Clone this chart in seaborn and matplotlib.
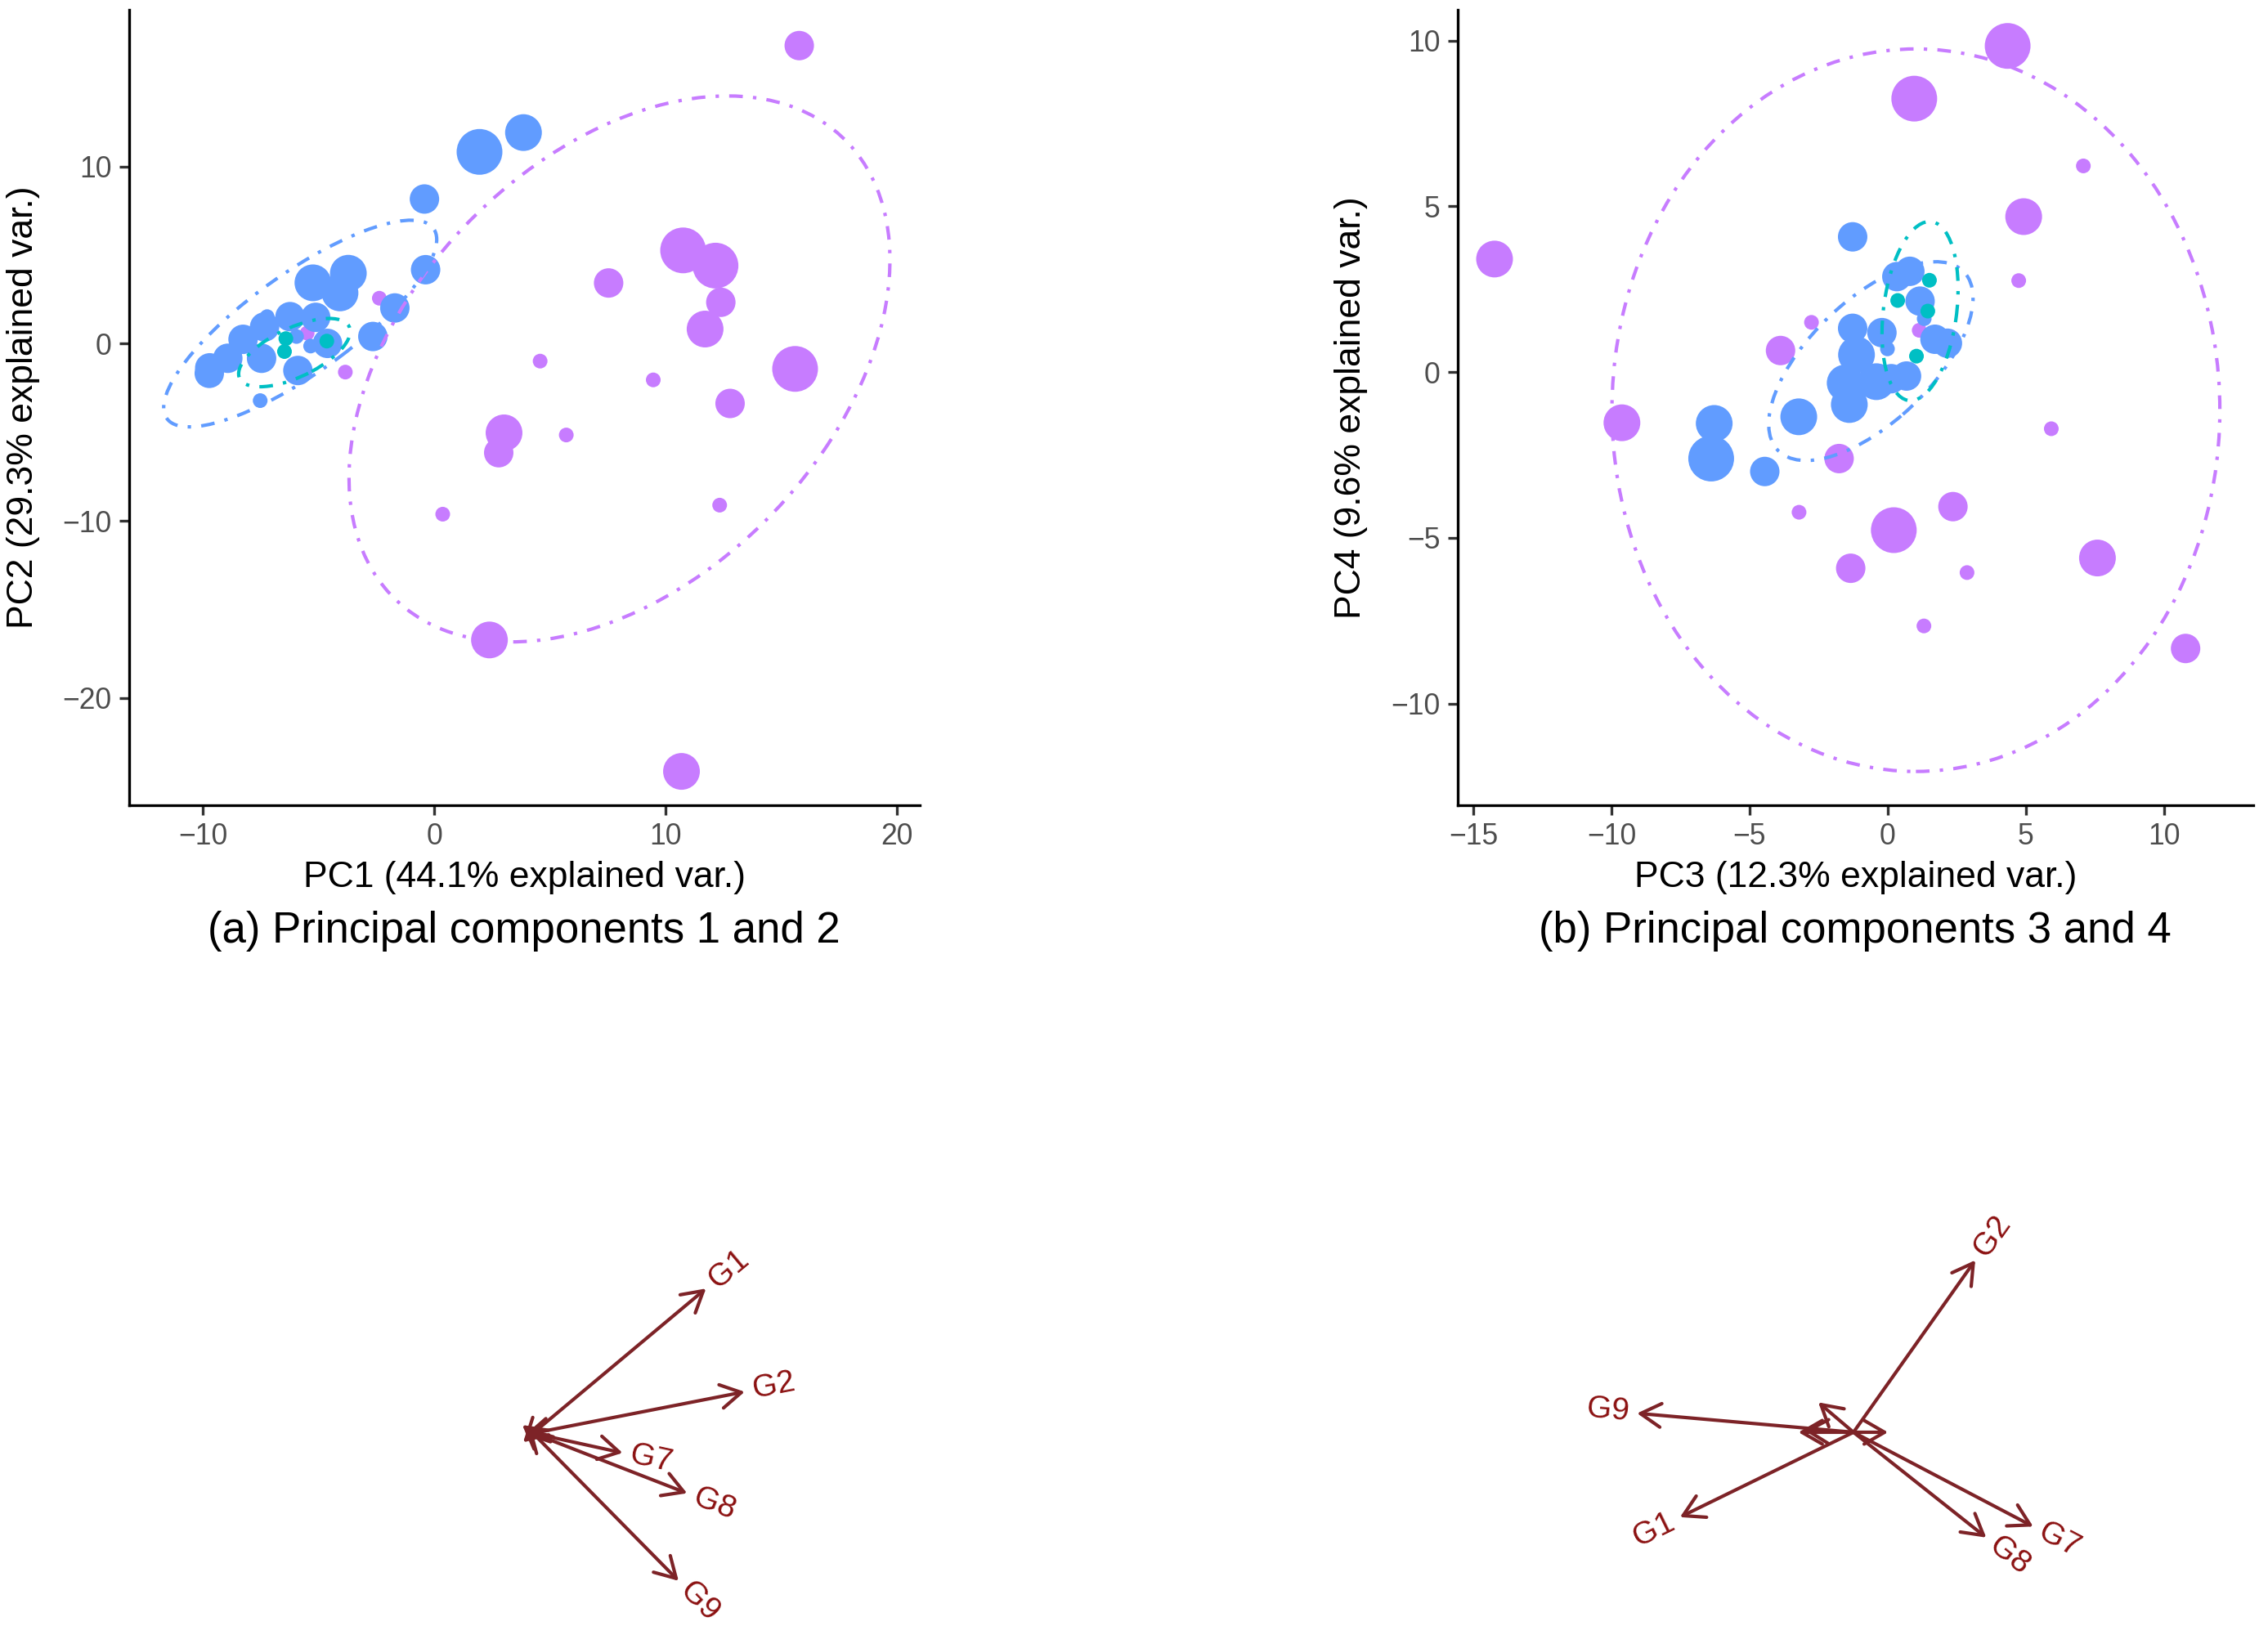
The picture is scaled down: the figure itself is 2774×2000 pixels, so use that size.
import numpy as np
import pandas as pd
import matplotlib
matplotlib.use("Agg")
import matplotlib.pyplot as plt
from matplotlib.patches import Ellipse, FancyArrowPatch
import seaborn as sns

sns.set_theme(style="ticks")
plt.rcParams['font.family'] = ['Liberation Sans', 'DejaVu Sans']

# ---------------- data: panel (a) PC1 vs PC2 ----------------
a_purple_x = [15.77, 10.75, 12.15, 7.53, 12.38, 11.70, 15.59, 12.78, 4.57, 9.46,
              3.01, 2.78, 5.70, 0.36, 12.33, 2.38, 10.68, -2.38, -3.85, -5.50]
a_purple_y = [16.83, 5.27, 4.41, 3.43, 2.34, 0.83, -1.42, -3.37, -0.98, -2.04,
              -5.03, -6.15, -5.15, -9.62, -9.11, -16.72, -24.14, 2.57, -1.60, 0.60]
a_purple_s = [2, 4, 4, 2, 2, 3, 4, 2, 1, 1, 3, 2, 1, 1, 1, 3, 3, 1, 1, 1]

a_blue_x = [-3.72, -5.25, -4.08, -0.38, -1.71, -2.66, -5.13, -6.24, -7.23, -7.34,
            -8.27, -7.47, -8.93, -9.71, -9.73, -5.90, -4.62, -5.35, -5.96, -7.53,
            -0.43, 1.95, 3.85]
a_blue_y = [3.98, 3.44, 2.87, 4.18, 2.02, 0.41, 1.49, 1.53, 1.53, 0.95,
            0.25, -0.82, -0.82, -1.36, -1.67, -1.51, 0.02, -0.13, 0.41, -3.21,
            8.17, 10.83, 11.92]
a_blue_s = [3, 3, 3, 2, 2, 2, 2, 2, 1, 2, 2, 2, 2, 2, 2, 2, 2, 1, 1, 1, 2, 4, 3]

a_teal_x = [-6.42, -6.48, -4.65]
a_teal_y = [0.29, -0.44, 0.15]
a_teal_s = [1, 1, 1]

# ---------------- data: panel (b) PC3 vs PC4 ----------------
b_purple_x = [4.34, 0.96, 7.08, 4.92, -14.23, 4.74, -2.76, -3.88, 1.14, -9.62,
              5.92, -1.76, -3.21, 2.36, 0.22, -1.34, 7.59, 2.87, 1.31, 10.78]
b_purple_y = [9.84, 8.25, 6.22, 4.69, 3.41, 2.76, 1.50, 0.65, 1.26, -1.53,
              -1.71, -2.61, -4.23, -4.06, -4.77, -5.92, -5.61, -6.05, -7.66, -8.34]
b_purple_s = [4, 4, 1, 3, 3, 1, 1, 2, 1, 3, 1, 2, 1, 2, 4, 2, 3, 1, 1, 2]

b_blue_x = [-1.27, -6.28, -6.39, -4.45, -3.22, -1.27, -0.21, -0.01, -1.13, 0.33,
            0.80, 1.17, 1.32, 1.71, 2.16, -1.54, -0.41, 0.13, 0.68, -1.39]
b_blue_y = [4.08, -1.55, -2.61, -3.00, -1.35, 1.32, 1.19, 0.70, 0.52, 2.88,
            3.04, 2.14, 1.61, 0.99, 0.87, -0.33, -0.29, -0.20, -0.12, -0.98]
b_blue_s = [2, 3, 4, 2, 3, 2, 2, 1, 3, 2, 2, 2, 1, 2, 2, 3, 3, 2, 2, 3]

b_teal_x = [1.51, 0.36, 1.45, 1.04]
b_teal_y = [2.77, 2.16, 1.84, 0.48]
b_teal_s = [1, 1, 1, 1]

# ellipses: centre x, centre y, semi-axis a, semi-axis b, angle (deg)
a_ellipses = {"A": (8.0, -1.42, 16.58, 9.96, 62.5),
              "B": (-5.8, 1.14, 7.9, 2.54, 44.6),
              "C": (-6.05, -0.5, 2.8, 1.3, 35.0)}
b_ellipses = {"A": (1.02, -1.15, 11.0, 10.9, 0.0),
              "B": (-0.61, 0.33, 4.33, 1.98, 35.8),
              "C": (1.17, 1.84, 2.73, 1.32, 80.6)}

# loadings (biplot arrows)
var_names = ["G1", "G2", "G3", "G4", "G5", "G6", "G7", "G8", "G9"]
load12_x = [2.116, 2.589, -0.13, -0.12, -0.10, -0.06, 1.096, 1.885, 1.781]
load12_y = [1.770, 0.507, 0.10, -0.11, -0.02, 0.06, -0.240, -0.734, -1.806]
load34_x = [-2.122, 1.490, -0.43, -0.673, 0.422, -0.60, 2.198, 1.624, -2.647]
load34_y = [-1.038, 2.105, 0.366, 0.0, 0.0, 0.02, -1.153, -1.288, 0.232]

palette = {"A": "#C77CFF", "B": "#619CFF", "C": "#00BFC4"}
size_map = {1: 42, 2: 168, 3: 262, 4: 406}


def make_df(px, py, ps, bx, by, bs, tx, ty, ts):
    return pd.DataFrame({
        "x": px + bx + tx,
        "y": py + by + ty,
        "group": ["A"] * len(px) + ["B"] * len(bx) + ["C"] * len(tx),
        "size": ps + bs + ts,
    })


df_a = make_df(a_purple_x, a_purple_y, a_purple_s, a_blue_x, a_blue_y, a_blue_s,
               a_teal_x, a_teal_y, a_teal_s)
df_b = make_df(b_purple_x, b_purple_y, b_purple_s, b_blue_x, b_blue_y, b_blue_s,
               b_teal_x, b_teal_y, b_teal_s)

W, H = 2774, 2000
fig = plt.figure(figsize=(W / 200, H / 200), dpi=200)


def px_axes(x0, y0, x1, y1):
    return fig.add_axes([x0 / W, 1 - y1 / H, (x1 - x0) / W, (y1 - y0) / H])


ax1 = px_axes(157.5, 12, 1125, 985)
ax2 = px_axes(1782.7, 12, 2756, 985)
ax3 = px_axes(300, 1450, 1200, 2000)
ax4 = px_axes(1800, 1450, 2700, 2000)


def scatter_panel(ax, df, ellipses, xlim, ylim, xticks, yticks, xlabel, ylabel, title):
    sns.scatterplot(data=df, x="x", y="y", hue="group", size="size",
                    palette=palette, sizes=size_map, linewidth=0, alpha=1,
                    legend=False, ax=ax, zorder=2)
    for g, (cx, cy, a, b, ang) in ellipses.items():
        e = Ellipse((cx, cy), 2 * a, 2 * b, angle=ang, fill=False,
                    edgecolor=palette[g], lw=1.5, linestyle=(0, (4, 3, 1, 3)),
                    zorder=3)
        ax.add_patch(e)
    ax.set_xlim(*xlim)
    ax.set_ylim(*ylim)
    ax.set_xticks(xticks)
    ax.set_yticks(yticks)
    sns.despine(ax=ax)
    for sp in ["left", "bottom"]:
        ax.spines[sp].set_linewidth(1.2)
        ax.spines[sp].set_color("black")
    ax.tick_params(length=4.4, width=1.2, color="#333333", labelsize=12.8,
                   labelcolor="#4D4D4D", pad=3.2)
    ax.set_xlabel(xlabel, fontsize=16, color="black")
    ax.set_ylabel(ylabel, fontsize=16, color="black")
    ax.xaxis.set_label_coords(0.5, -0.0905)
    ax.xaxis.label.set_va("center")
    ax.yaxis.set_label_coords(-0.1335, 0.5)
    ax.yaxis.label.set_va("center")
    ax.text(0.5, -0.1585, title, transform=ax.transAxes, ha="center",
            va="center", fontsize=19, color="black")


scatter_panel(ax1, df_a, a_ellipses, (-13.21, 20.98), (-26.05, 18.85),
              [-10, 0, 10, 20], [-20, -10, 0, 10],
              "PC1 (44.1% explained var.)", "PC2 (29.3% explained var.)",
              "(a) Principal components 1 and 2")
scatter_panel(ax2, df_b, b_ellipses, (-15.57, 13.23), (-13.07, 10.93),
              [-15, -10, -5, 0, 5, 10], [-10, -5, 0, 5, 10],
              "PC3 (12.3% explained var.)", "PC4 (9.6% explained var.)",
              "(b) Principal components 3 and 4")


def arrow_panel(ax, lx, ly, xlim, ylim):
    ax.set_xlim(*xlim)
    ax.set_ylim(*ylim)
    ax.axis("off")
    for name, dx, dy in zip(var_names, lx, ly):
        arr = FancyArrowPatch((0, 0), (dx, dy),
                              arrowstyle="->,head_length=0.9,head_width=0.52",
                              mutation_scale=10, lw=1.5, color="#7d2327",
                              shrinkA=0, shrinkB=0, zorder=3)
        ax.add_patch(arr)
        length = np.hypot(dx, dy)
        if length > 0.9:
            ux, uy = dx / length, dy / length
            rot = np.degrees(np.arctan2(dy, dx))
            if rot > 90:
                rot -= 180
            elif rot < -90:
                rot += 180
            ax.text(dx + 0.36 * ux, dy + 0.36 * uy, name, rotation=rot,
                    rotation_mode="anchor", ha="center", va="center",
                    fontsize=14, color="#8b1010")


arrow_panel(ax3, load12_x, load12_y, (-3.519, 5.481), (-2.468, 3.032))
arrow_panel(ax4, load34_x, load34_y, (-4.67, 4.33), (-2.48, 3.02))

fig.savefig("out.png", dpi=200)
